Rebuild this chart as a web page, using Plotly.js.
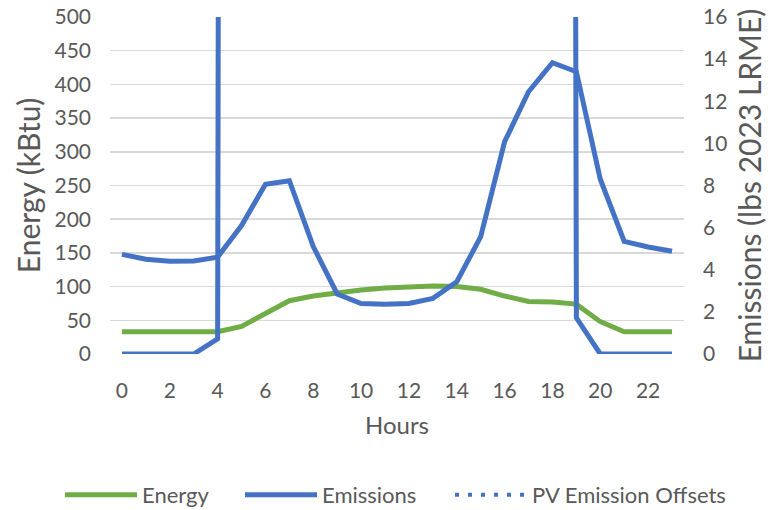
<!DOCTYPE html>
<html>
<head>
<meta charset="utf-8">
<script src="https://cdn.plot.ly/plotly-3.0.1.min.js"></script>
<style>
html,body{margin:0;padding:0;background:#fff;}
#chart{width:773px;height:510px;}
</style>
</head>
<body>
<div id="chart"></div>
<script>
const hours = [0,1,2,3,4,5,6,7,8,9,10,11,12,13,14,15,16,17,18,19,20,21,22,23];
const energy = [33,33,33,33,33,41,60,79,86,91,95,98,100,101,100,96,86,78,77,74,48,33,33,33];
const emissions = [4.73,4.5,4.4,4.42,4.6,6.1,8.06,8.23,5.1,2.85,2.4,2.36,2.4,2.64,3.43,5.57,10.08,12.45,13.83,13.4,8.3,5.35,5.08,4.88];
const pvOffsets = [0,0,0,0,0.72,600,1200,1800,2300,2700,2900,3000,2950,2800,2500,2100,1600,1000,500,1.72,0,0,0,0];
const xTicks = [0,2,4,6,8,10,12,14,16,18,20,22];
const leftTicks = [0,50,100,150,200,250,300,350,400,450,500];
const rightTicks = [0,2,4,6,8,10,12,14,16];

const FONT = 'Lato, "Open Sans", sans-serif';
const TXT = '#595959';
const GREEN = '#70AD47';
const BLUE = '#4472C4';

const traces = [
  {x: hours, y: energy, name: 'Energy', type: 'scatter', mode: 'lines',
   line: {color: GREEN, width: 5}, yaxis: 'y', hoverinfo: 'skip', legend: 'legend'},
  {x: hours, y: emissions, name: 'Emissions', type: 'scatter', mode: 'lines',
   line: {color: BLUE, width: 5}, yaxis: 'y2', hoverinfo: 'skip', legend: 'legend2'},
  {x: hours, y: pvOffsets, name: 'PV Emission Offsets', type: 'scatter', mode: 'lines',
   line: {color: BLUE, width: 5}, yaxis: 'y2', showlegend: false, hoverinfo: 'skip'},
  {x: [null], y: [null], name: 'PV Emission Offsets', type: 'scatter', mode: 'lines',
   line: {color: BLUE, width: 4, dash: '4px,9px'}, yaxis: 'y2', hoverinfo: 'skip', legend: 'legend3'}
];

function leg(xpx) {
  return {orientation: 'h', x: xpx / 773, xanchor: 'left', xref: 'container',
          y: 15 / 510, yanchor: 'middle', yref: 'container', itemwidth: 72,
          bgcolor: 'rgba(0,0,0,0)', borderwidth: 0,
          font: {family: FONT, size: 22, color: TXT}};
}

const layout = {
  width: 773, height: 510,
  margin: {l: 110, r: 89, t: 17, b: 156},
  paper_bgcolor: '#ffffff', plot_bgcolor: '#ffffff',
  font: {family: FONT, color: TXT, size: 21},
  showlegend: true,
  legend: leg(60),
  legend2: leg(240),
  legend3: leg(450),
  xaxis: {
    range: [-0.5, 23.5], tickvals: xTicks, ticktext: xTicks.map(String),
    showgrid: false, zeroline: false, showline: false, ticks: '',
    ticklabelstandoff: 22,
    tickfont: {family: FONT, size: 21, color: TXT},
    title: {text: 'Hours', font: {family: FONT, size: 24, color: TXT}, standoff: 16}
  },
  yaxis: {
    range: [0, 500], tickvals: leftTicks, showgrid: true, gridcolor: '#d9d9d9', gridwidth: 1.5,
    zeroline: false, showline: false, ticks: '', ticklabelstandoff: 18,
    tickfont: {family: FONT, size: 21, color: TXT},
    title: {text: 'Energy (kBtu)', font: {family: FONT, size: 30, color: TXT}, standoff: 4}
  },
  yaxis2: {
    range: [0, 16], tickvals: rightTicks, overlaying: 'y', side: 'right',
    showgrid: false, zeroline: false, showline: false, ticks: '', ticklabelstandoff: 18,
    tickfont: {family: FONT, size: 21, color: TXT},
    title: {text: 'Emissions (lbs 2023 LRME)', font: {family: FONT, size: 30, color: TXT}, standoff: 13}
  }
};

Plotly.newPlot('chart', traces, layout, {staticPlot: true, displayModeBar: false});
</script>
</body>
</html>
